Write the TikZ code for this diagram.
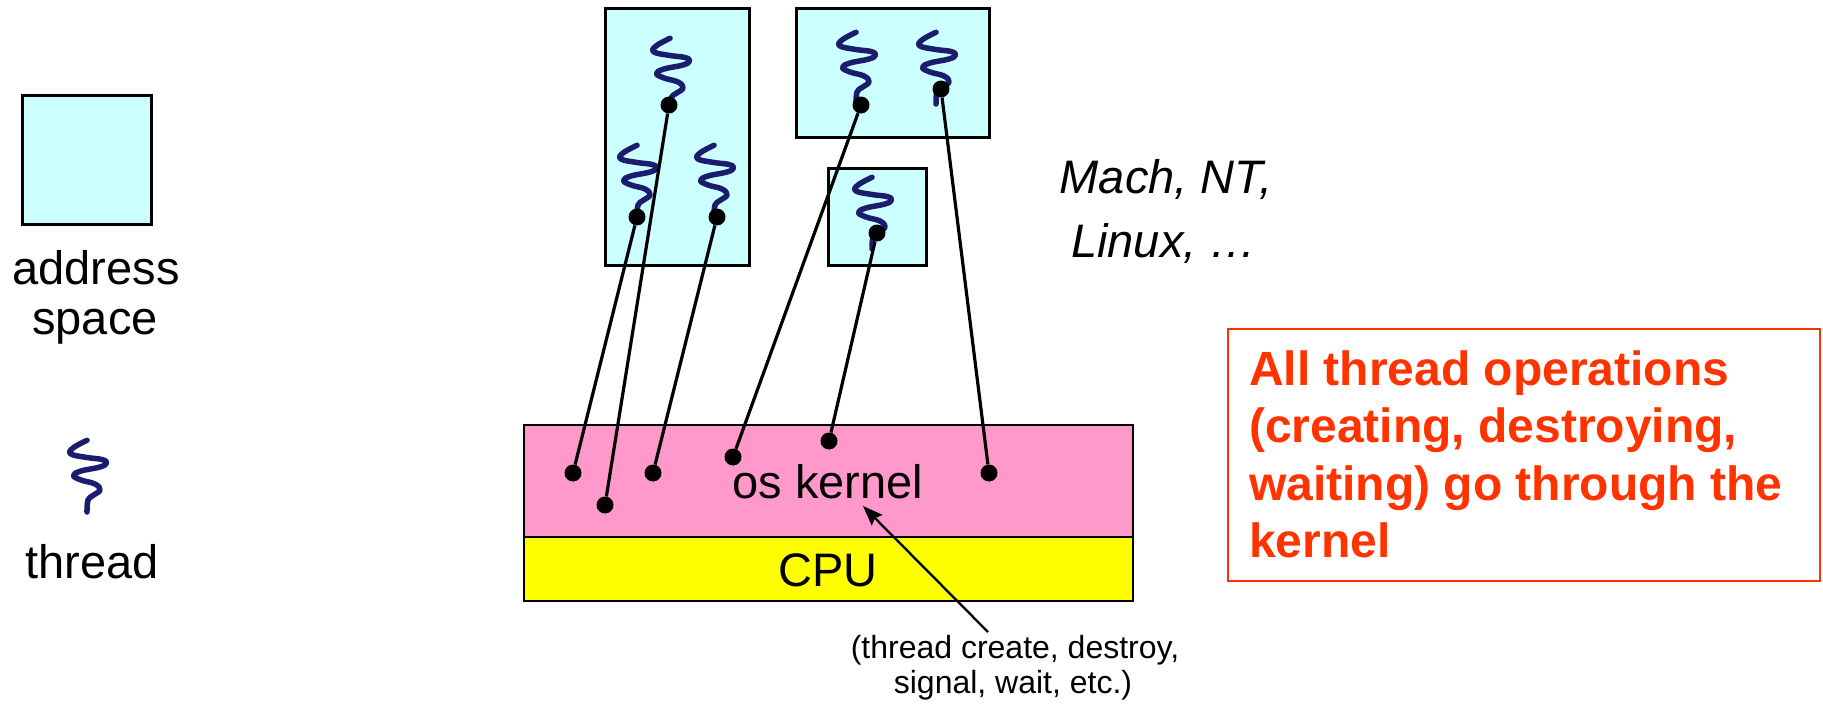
\documentclass[tikz,border=0pt]{standalone}
\usepackage{fontspec}
\setmainfont{Liberation Sans}
\usetikzlibrary{arrows.meta}
\definecolor{aspace}{HTML}{CCFFFF}
\definecolor{kpink}{HTML}{FF99CC}
\definecolor{cpuyel}{HTML}{FFFF00}
\definecolor{thr}{RGB}{28,28,110}
\definecolor{note}{HTML}{FF3300}
\begin{document}
\begin{tikzpicture}[x=1pt,y=-1pt,
  asbox/.style={draw=black, line width=3pt, fill=aspace, inner sep=0pt},
  layer/.style={draw=black, line width=2.8pt, inner sep=0pt, minimum width=609pt},
  tdot/.style={circle, fill=black, inner sep=0pt, minimum size=17pt},
  tlink/.style={line width=3.2pt, draw=black},
  thrline/.style={draw=thr, line width=5.5pt, line cap=round, line join=round},
  big/.style={font=\fontsize{47}{56}\selectfont, inner sep=0pt, anchor=base},
  bigit/.style={font=\fontsize{47}{56}\selectfont\itshape, inner sep=0pt, anchor=base},
  small/.style={font=\fontsize{32}{38}\selectfont, inner sep=0pt, anchor=base},
  redtxt/.style={font=\fontsize{48}{56}\selectfont\bfseries, text=note, inner sep=0pt, anchor=base west},
  threadglyph/.pic={\path[thrline] plot[smooth,tension=0.7] coordinates {(0,-71.7) (-14,-64) (-16,-58) (0,-54.5) (15,-52.5) (19.5,-49) (13,-45) (-6,-41) (-13.5,-36.5) (-6,-32) (8,-28) (13,-22) (6,-16.5) (1,-12) (0,0)};}
]
\fill[white] (0,0) rectangle (1823,704);
\useasboundingbox (0,0) rectangle (1823,704);

% legend
\node[asbox, minimum width=129pt, minimum height=129pt] (legbox) at (86.5,159.5) {};
\node[big] (legaddr) at (96,284) {address};
\node[big] (legspace) at (95,334) {space};
\pic at (87,512) {threadglyph};
\node[big] (legthread) at (92,578) {thread};

% address spaces
\node[asbox, minimum width=144pt, minimum height=257pt] (lbox) at (677,136.5) {};
\node[asbox, minimum width=193pt, minimum height=129pt] (trbox) at (892.5,72.5) {};
\node[asbox, minimum width=98pt, minimum height=97pt] (sbox) at (877,216.5) {};

% kernel and cpu
\node[layer, fill=kpink, minimum height=112pt] (kernel) at (828.5,481) {};
\node[layer, fill=cpuyel, minimum height=64pt] (cpu) at (828.5,569) {};
\node[big] (kerneltxt) at (828,498) {os kernel};
\node[big] (cputxt) at (828,586) {CPU};

% threads
\pic at (670,110) {threadglyph};
\pic at (637,217) {threadglyph};
\pic at (714,217) {threadglyph};
\pic at (856,104) {threadglyph};
\pic at (936,104) {threadglyph};
\pic at (872,249) {threadglyph};

% dots at threads
\node[tdot] (t1) at (669,105) {};
\node[tdot] (t2) at (637,217) {};
\node[tdot] (t3) at (717,217) {};
\node[tdot] (t4) at (861,105) {};
\node[tdot] (t5) at (941,89) {};
\node[tdot] (t6) at (877,233) {};

% dots in kernel
\node[tdot] (k1) at (573,473) {};
\node[tdot] (k2) at (605,505) {};
\node[tdot] (k3) at (653,473) {};
\node[tdot] (k4) at (733,457) {};
\node[tdot] (k5) at (829,441) {};
\node[tdot] (k6) at (989,473) {};

\draw[tlink] (t1) -- (k2);
\draw[tlink] (t2) -- (k1);
\draw[tlink] (t3) -- (k3);
\draw[tlink] (t4) -- (k4);
\draw[tlink] (t5) -- (k6);
\draw[tlink] (t6) -- (k5);

% Mach text
\node[bigit] (mach1) at (1166,193) {Mach, NT,};
\node[bigit] (mach2) at (1164,257) {Linux, …};

% caption and arrow
\node[small] (cap1) at (1015,658) {(thread create, destroy,};
\node[small] (cap2) at (1013,693) {signal, wait, etc.)};
\coordinate (atail) at (988,632);
\coordinate (atip) at (863,506);
\draw[line width=2.3pt, -{Stealth[length=20pt,width=15pt,inset=3pt]}] (atail) -- (atip);

% red note
\node[draw=note, line width=2.4pt, inner sep=0pt, minimum width=592pt, minimum height=252pt] (note) at (1524,455) {};
\node[redtxt] (r1) at (1249,385) {All thread operations};
\node[redtxt] (r2) at (1249,442) {(creating, destroying,};
\node[redtxt] (r3) at (1249,500) {waiting) go through the};
\node[redtxt] (r4) at (1249,557) {kernel};
\end{tikzpicture}
\end{document}
